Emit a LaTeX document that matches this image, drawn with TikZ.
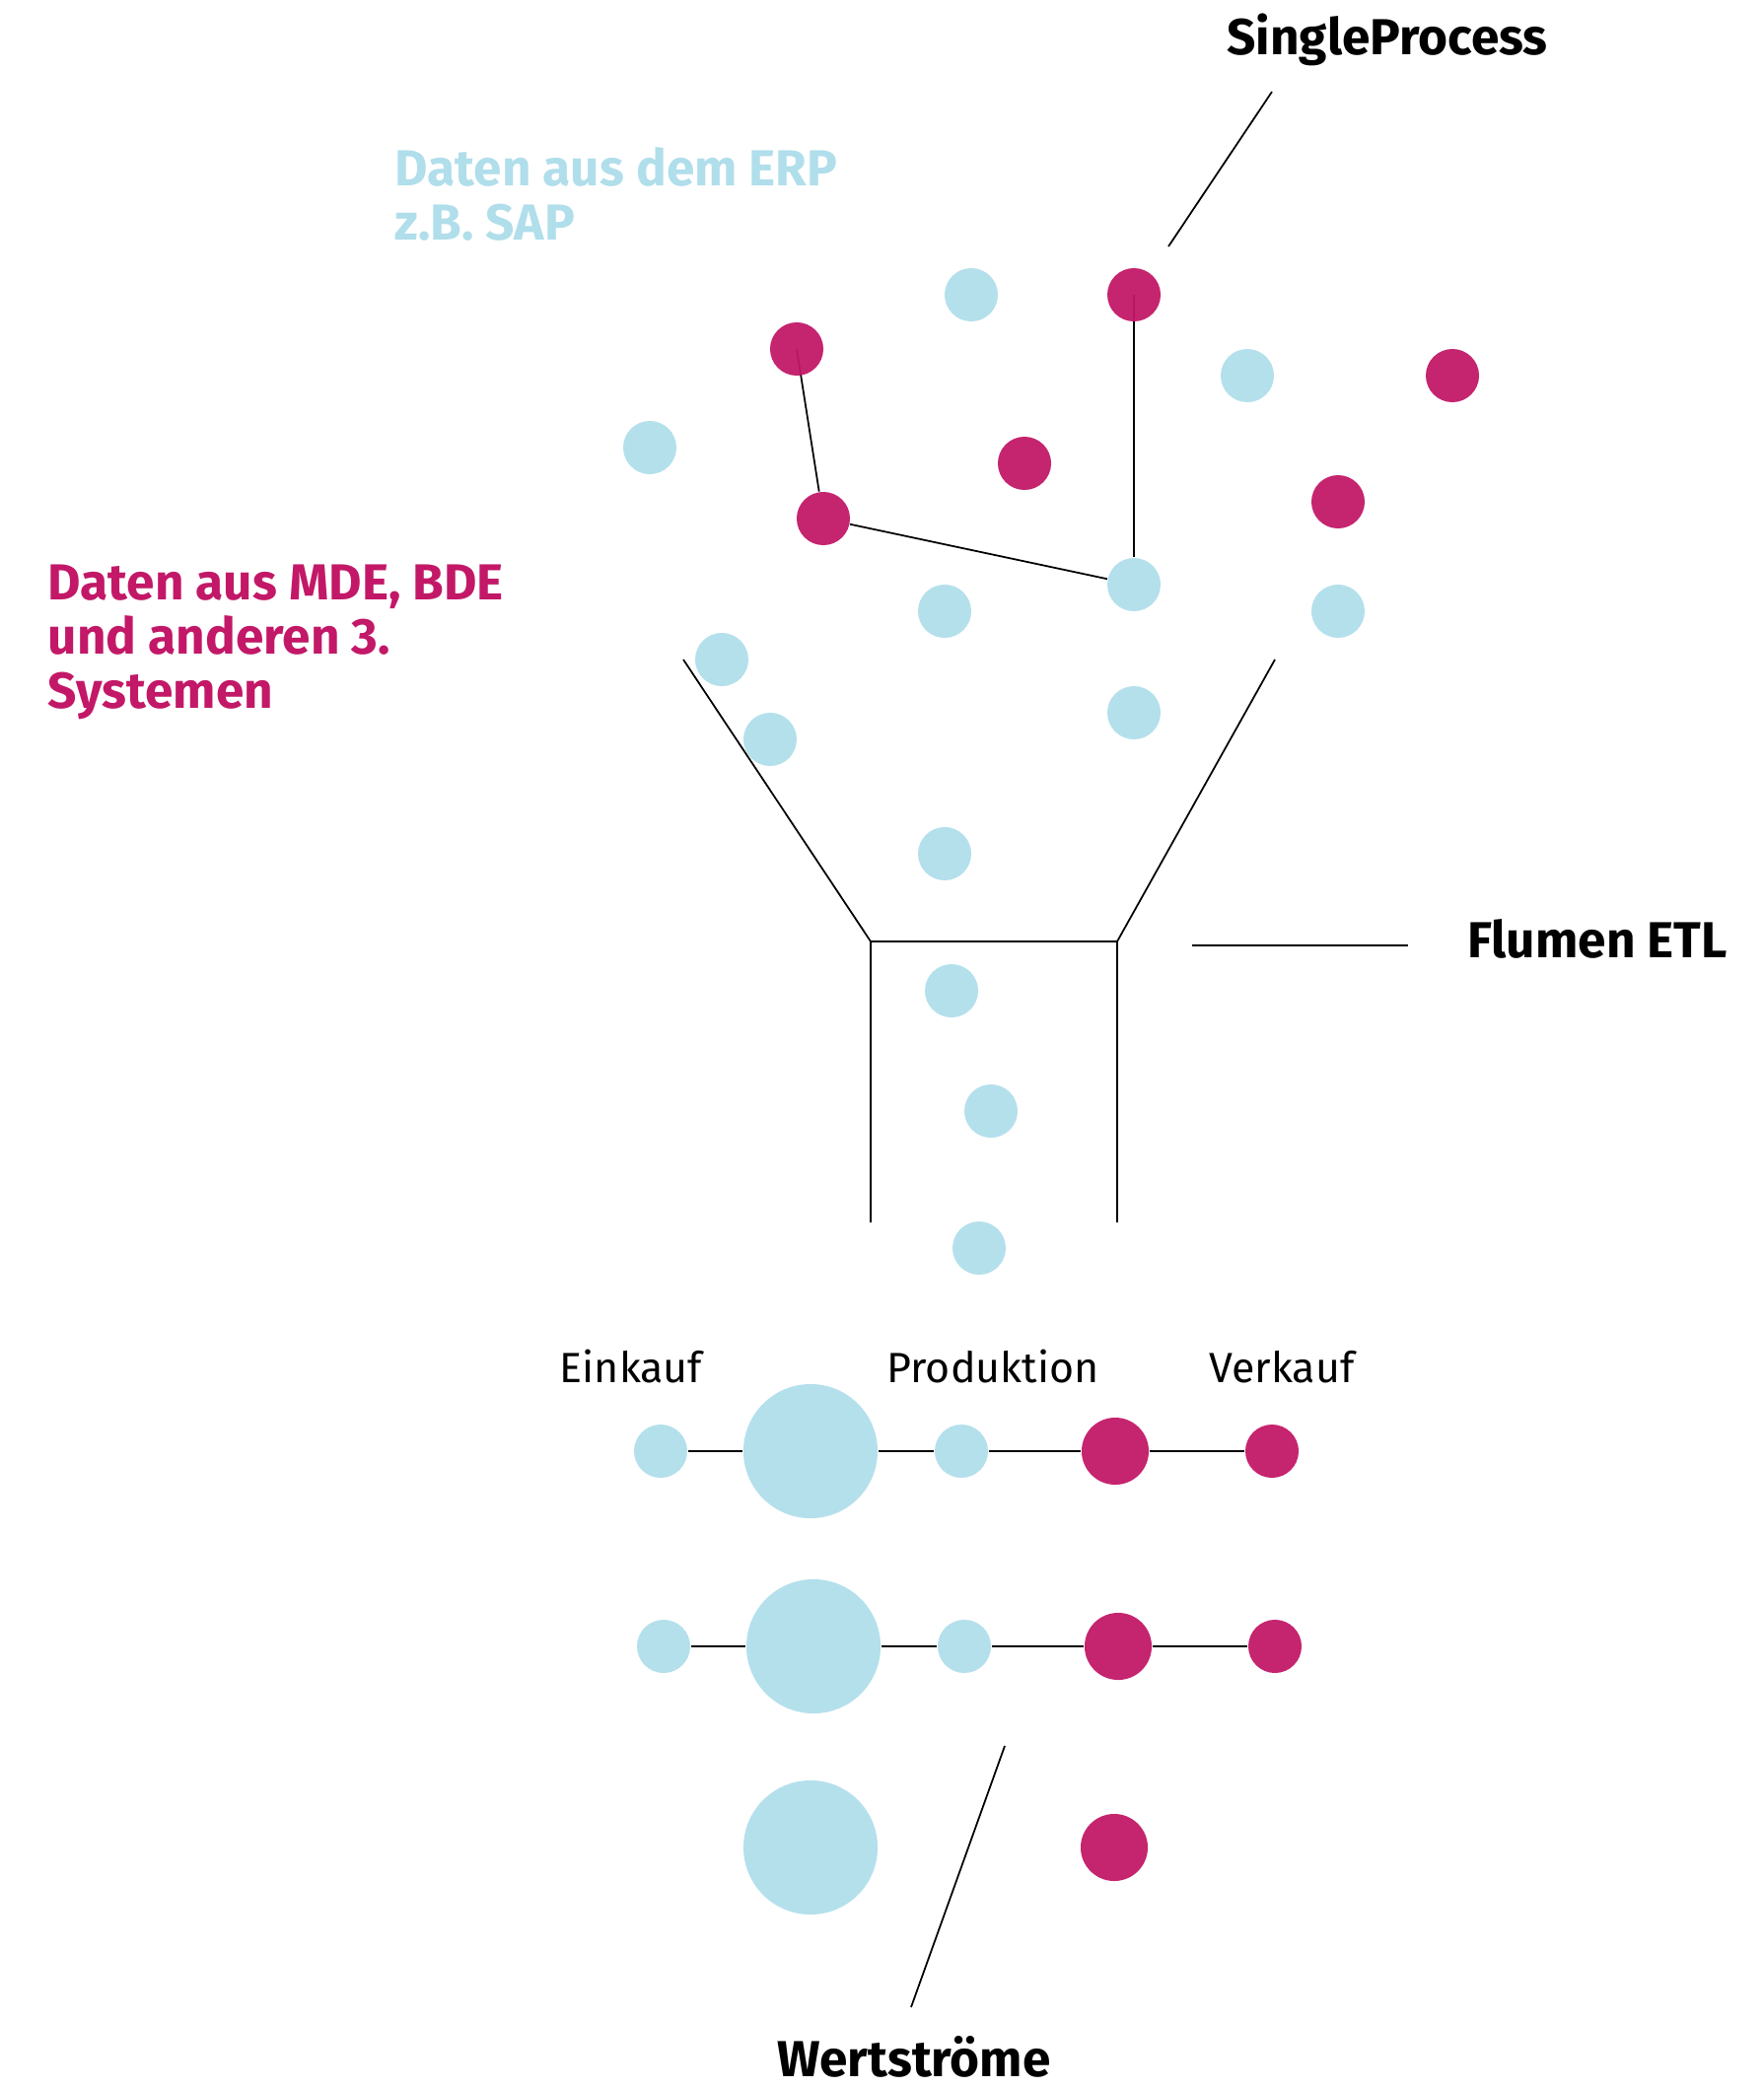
\documentclass[tikz,border=0pt]{standalone}
\usepackage{fontspec}
\setmainfont{Fira Sans}
\newfontfamily\lightfont{Fira Sans}
\usetikzlibrary{backgrounds}
\definecolor{erpblue}{RGB}{176,222,235}
\definecolor{mdered}{RGB}{194,24,103}
\tikzstyle{dotb} = [circle, inner sep=0pt, minimum size=0.54cm, fill=erpblue, fill opacity=0.95]
\tikzstyle{dotm} = [circle, inner sep=0pt, minimum size=0.54cm, fill=mdered, fill opacity=0.95]
\tikzstyle{bigb} = [dotb, minimum size=1.36cm]
\tikzstyle{midm} = [dotm, minimum size=0.68cm]
\tikzstyle{wire} = [line width=0.5pt, black]
\tikzstyle{head} = [font=\fontsize{14.6}{15.6}\selectfont\bfseries, inner sep=0pt, align=left]
\tikzstyle{step label} = [font=\fontsize{12.2}{13}\selectfont\lightfont, inner sep=0pt]

\begin{document}
\begin{tikzpicture}[x=0.01cm, y=-0.01cm]
                 \useasboundingbox (0,0) rectangle (1789,2118);
                 % labels
                 \node (erp) [head, text=erpblue, anchor=base west] at (400,243) {Daten aus dem ERP\\z.B. SAP};
                 \node (mde) [head, text=mdered, anchor=base west] at (48,718) {Daten aus MDE, BDE\\und anderen 3.\\Systemen};
                 \node (sp) [head, anchor=base] at (1407,55) {SingleProcess};
                 \node (etl) [head, anchor=base] at (1620,971) {Flumen ETL};
                 \node (ws) [head, anchor=base] at (927,2106) {Wertstr\"ome};
                 \node (ek) [step label, anchor=base] at (640,1402) {Einkauf};
                 \node (pr) [step label, anchor=base] at (1007,1402) {Produktion};
                 \node (vk) [step label, anchor=base] at (1300,1402) {Verkauf};
                 % data points
                 \node (b1) [dotb] at (985,299) {};
                 \node (m1) [dotm] at (1150,299) {};
                 \node (m2) [dotm] at (808,354) {};
                 \node (b2) [dotb] at (1265,381) {};
                 \node (m3) [dotm] at (1473,381) {};
                 \node (b3) [dotb] at (659,454) {};
                 \node (m4) [dotm] at (1039,470) {};
                 \node (m5) [dotm] at (835,526) {};
                 \node (m6) [dotm] at (1357,509) {};
                 \node (b4) [dotb] at (1150,593) {};
                 \node (b5) [dotb] at (958,620) {};
                 \node (b6) [dotb] at (1357,620) {};
                 \node (b7) [dotb] at (732,669) {};
                 \node (b8) [dotb] at (781,750) {};
                 \node (b9) [dotb] at (1150,723) {};
                 \node (b10) [dotb] at (958,866) {};
                 \node (b11) [dotb] at (965,1005) {};
                 \node (b12) [dotb] at (1005,1127) {};
                 \node (b13) [dotb] at (993,1266) {};
                 % value streams
                 \node (r1a) [dotb] at (670,1472) {};
                 \node (r1b) [bigb] at (822,1472) {};
                 \node (r1c) [dotb] at (975,1472) {};
                 \node (r1d) [midm] at (1131,1472) {};
                 \node (r1e) [dotm] at (1290,1472) {};
                 \node (r2a) [dotb] at (673,1670) {};
                 \node (r2b) [bigb] at (825,1670) {};
                 \node (r2c) [dotb] at (978,1670) {};
                 \node (r2d) [midm] at (1134,1670) {};
                 \node (r2e) [dotm] at (1293,1670) {};
                 \node (r3b) [bigb] at (822,1874) {};
                 \node (r3d) [midm] at (1130,1874) {};
                 % funnel and pointers
                 \coordinate (fl) at (693,669);
                 \coordinate (fr) at (1293,669);
                 \coordinate (nl) at (883,955);
                 \coordinate (nr) at (1133,955);
                 \coordinate (el) at (883,1240);
                 \coordinate (er) at (1133,1240);
                 \coordinate (sp1) at (1290,93);
                 \coordinate (sp2) at (1185,250);
                 \coordinate (etl1) at (1209,959);
                 \coordinate (etl2) at (1428,959);
                 \coordinate (ws1) at (1019,1771);
                 \coordinate (ws2) at (924,2036);
                 \begin{scope}[on background layer]
                 \draw [wire] (m2.center) -- (m5) -- (b4);
                 \draw [wire] (m1.center) -- (b4);
                 \draw [wire] (r1a) -- (r1b) -- (r1c) -- (r1d) -- (r1e);
                 \draw [wire] (r2a) -- (r2b) -- (r2c) -- (r2d) -- (r2e);
                 \end{scope}
                 \draw [wire] (fl) -- (nl) -- (nr) -- (fr);
                 \draw [wire] (nl) -- (el);
                 \draw [wire] (nr) -- (er);
                 \draw [wire] (sp1) -- (sp2);
                 \draw [wire] (etl1) -- (etl2);
                 \draw [wire] (ws1) -- (ws2);
             \end{tikzpicture}
\end{document}
